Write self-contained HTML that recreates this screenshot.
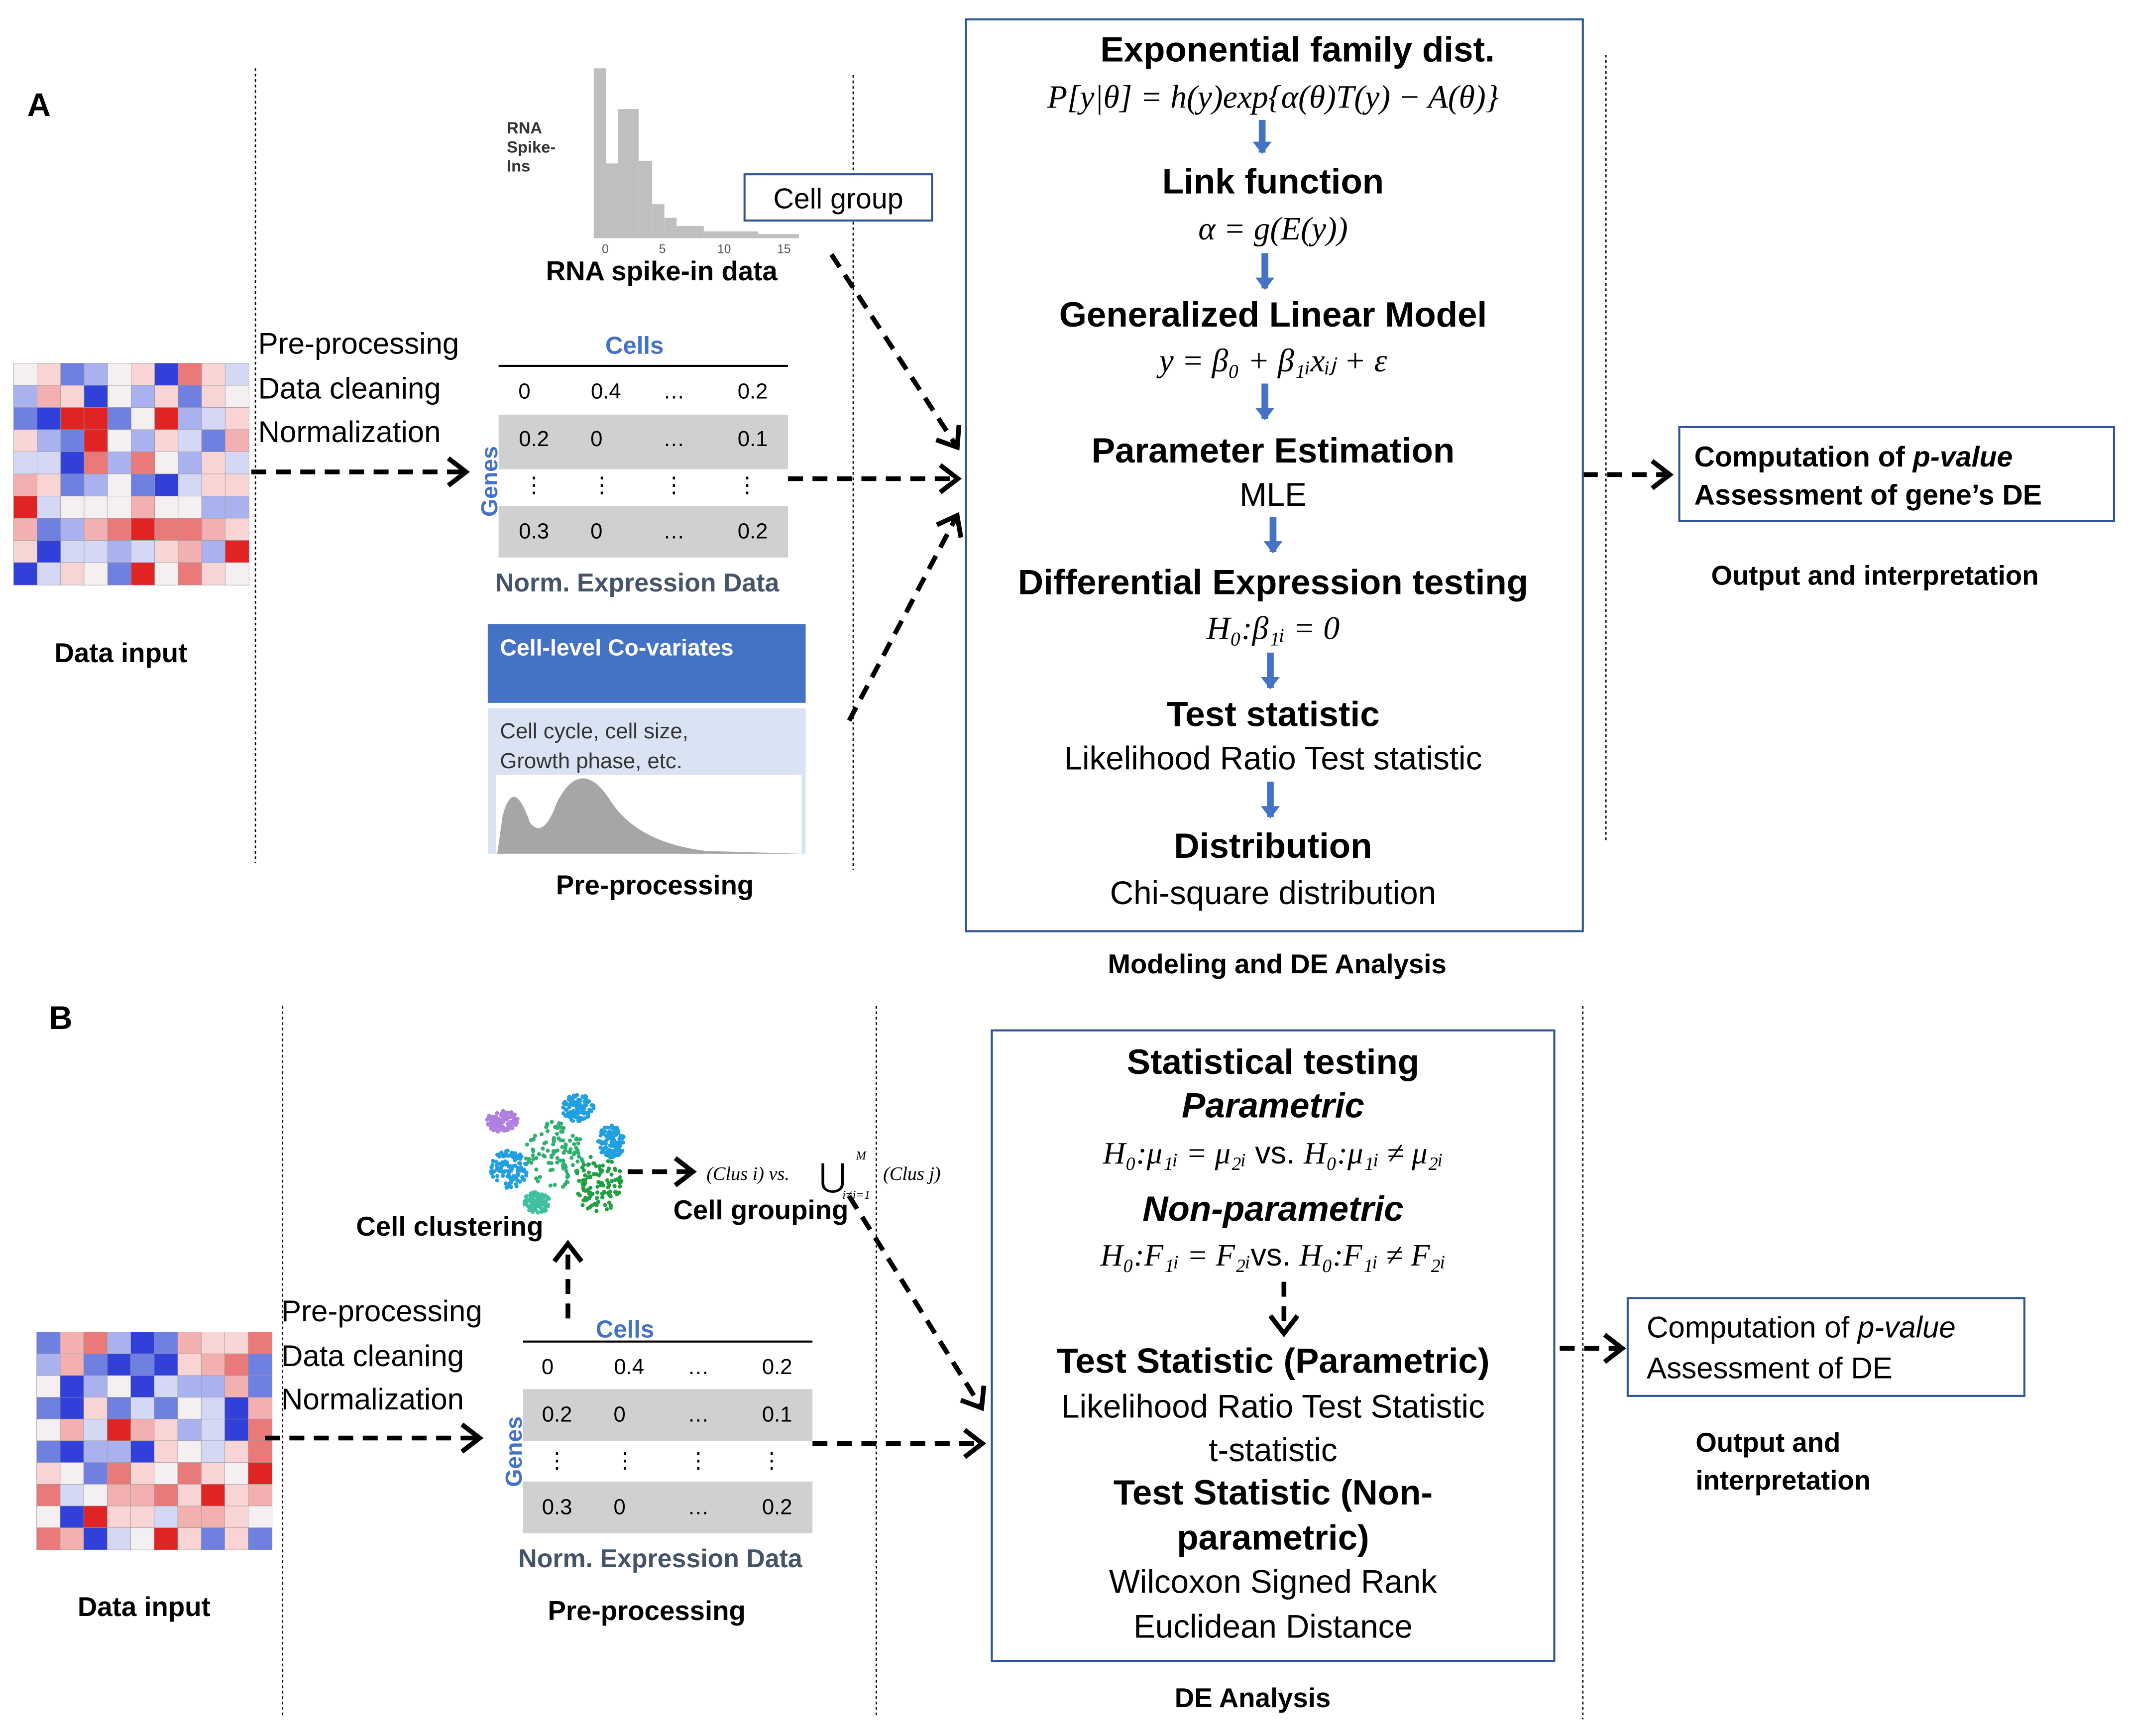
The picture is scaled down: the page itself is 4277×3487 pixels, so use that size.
<!DOCTYPE html>
<html><head><meta charset="utf-8">
<style>
html,body{margin:0;padding:0;background:#fff;}
svg{display:block;}
text{font-family:"Liberation Sans",sans-serif;}
.b{font-weight:bold;}
.s{font-family:"Liberation Serif",serif;font-style:italic;}
</style></head><body>
<svg id="sv" width="4277" height="3487" viewBox="0 0 1567 1277" xmlns="http://www.w3.org/2000/svg">
<defs>
<marker id="ah" markerWidth="20" markerHeight="24" refX="14" refY="12" orient="auto" markerUnits="userSpaceOnUse" viewBox="0 0 20 24">
<path d="M2,2 L15,12 L2,22" fill="none" stroke="#000" stroke-width="3.5"/></marker>
<marker id="bh" markerWidth="14" markerHeight="14" refX="7" refY="12" orient="0" markerUnits="userSpaceOnUse" viewBox="0 0 14 14">
<path d="M0,4 L14,4 L7,13 Z" fill="#4472c4"/></marker>
</defs>
<rect width="1567" height="1277" fill="#fff"/>
<g id="heat"></g>

<text x="20" y="85" font-size="24" class="b">A</text>
<g stroke="#000" stroke-width="1" stroke-dasharray="2,2">
<line x1="188" y1="50" x2="188" y2="635"/><line x1="628" y1="55" x2="628" y2="640"/><line x1="1182" y1="40" x2="1182" y2="620"/>
<line x1="208" y1="740" x2="208" y2="1262"/><line x1="645" y1="740" x2="645" y2="1262"/><line x1="1165" y1="740" x2="1165" y2="1265"/>
</g>
<g fill="#bfbfbf">
<rect x="437" y="50" width="9" height="125"/><rect x="446" y="120" width="9" height="55"/><rect x="455" y="80" width="15" height="95"/>
<rect x="470" y="118" width="10" height="57"/><rect x="480" y="150" width="9" height="25"/><rect x="489" y="160" width="9" height="15"/>
<rect x="498" y="166" width="20" height="9"/><rect x="518" y="170" width="40" height="5"/><rect x="558" y="172" width="30" height="3"/>
</g>
<text x="373" y="98" font-size="12" class="b" fill="#333">RNA</text>
<text x="373" y="112" font-size="12" class="b" fill="#333">Spike-</text>
<text x="373" y="126" font-size="12" class="b" fill="#333">Ins</text>
<text x="443" y="186" font-size="9" fill="#555">0</text><text x="485" y="186" font-size="9" fill="#555">5</text><text x="528" y="186" font-size="9" fill="#555">10</text><text x="572" y="186" font-size="9" fill="#555">15</text>
<rect x="548" y="128" width="138" height="34" fill="#fff" stroke="#2f5597" stroke-width="1.5"/>
<text x="617" y="153" font-size="21" text-anchor="middle">Cell group</text>
<text x="487" y="206" font-size="20" class="b" text-anchor="middle">RNA spike-in data</text>
<g font-size="22"><text x="190" y="260">Pre-processing</text><text x="190" y="293">Data cleaning</text><text x="190" y="325">Normalization</text></g>
<text x="89" y="487" font-size="20" class="b" text-anchor="middle">Data input</text>
<text x="467" y="260" font-size="18" class="b" fill="#4472c4" text-anchor="middle">Cells</text>
<line x1="367" y1="269" x2="580" y2="269" stroke="#000" stroke-width="1.5"/>
<rect x="367" y="305" width="213" height="40" fill="#d0d0d0"/><rect x="367" y="372" width="213" height="38" fill="#d0d0d0"/>
<g font-size="16" text-anchor="middle">
<text x="386" y="293">0</text><text x="446" y="293">0.4</text><text x="496" y="293">…</text><text x="554" y="293">0.2</text>
<text x="393" y="328">0.2</text><text x="439" y="328">0</text><text x="496" y="328">…</text><text x="554" y="328">0.1</text>
<text x="393" y="362">⋮</text><text x="443" y="362">⋮</text><text x="496" y="362">⋮</text><text x="550" y="362">⋮</text>
<text x="393" y="396">0.3</text><text x="439" y="396">0</text><text x="496" y="396">…</text><text x="554" y="396">0.2</text></g>
<text x="0" y="0" font-size="17" class="b" fill="#4472c4" transform="translate(366,380) rotate(-90)">Genes</text>
<text x="469" y="435" font-size="19" class="b" fill="#44546a" text-anchor="middle">Norm. Expression Data</text>
<rect x="359" y="459" width="234" height="58" fill="#4472c4"/>
<text x="368" y="482" font-size="17" class="b" fill="#fff">Cell-level Co-variates</text>
<rect x="359" y="521" width="234" height="107" fill="#dae3f3"/>
<rect x="365" y="570" width="225" height="58" fill="#fff"/>
<text x="368" y="543" font-size="16" fill="#333">Cell cycle, cell size,</text>
<text x="368" y="565" font-size="16" fill="#333">Growth phase, etc.</text>
<path d="M366,628 L370,600 Q378,570 390,605 Q400,618 410,590 Q428,555 450,590 Q470,620 520,626 L590,628 Z" fill="#a6a6a6"/>
<text x="482" y="658" font-size="20" class="b" text-anchor="middle">Pre-processing</text>
<g stroke="#000" stroke-width="3.5" stroke-dasharray="11,7" fill="none" marker-end="url(#ah)">
<line x1="185" y1="347" x2="342" y2="347"/>
<line x1="612" y1="187" x2="704" y2="328"/>
<line x1="580" y1="352" x2="704" y2="352"/>
<line x1="625" y1="530" x2="704" y2="380"/>
<line x1="1165" y1="349" x2="1228" y2="349"/>
</g>
<rect x="711" y="14" width="454" height="671" fill="none" stroke="#2f5597" stroke-width="1.5"/>
<g text-anchor="middle">
<text x="955" y="45" font-size="26" class="b">Exponential family dist.</text>
<text x="937" y="79" font-size="24" class="s">P[y|θ] = h(y)exp{α(θ)T(y) − A(θ)}</text>
<text x="937" y="142" font-size="26" class="b">Link function</text>
<text x="937" y="176" font-size="24" class="s">α = g(E(y))</text>
<text x="937" y="240" font-size="26" class="b">Generalized Linear Model</text>
<text x="937" y="273" font-size="24" class="s">y = β₀ + β₁ᵢxᵢⱼ + ε</text>
<text x="937" y="340" font-size="26" class="b">Parameter Estimation</text>
<text x="937" y="372" font-size="24">MLE</text>
<text x="937" y="437" font-size="26" class="b">Differential Expression testing</text>
<text x="937" y="470" font-size="24" class="s">H₀:β₁ᵢ = 0</text>
<text x="937" y="534" font-size="26" class="b">Test statistic</text>
<text x="937" y="566" font-size="24">Likelihood Ratio Test statistic</text>
<text x="937" y="631" font-size="26" class="b">Distribution</text>
<text x="937" y="665" font-size="24">Chi-square distribution</text>
<text x="940" y="716" font-size="20" class="b">Modeling and DE Analysis</text>
<text x="1380" y="430" font-size="20" class="b">Output and interpretation</text>
</g>
<g stroke="#4472c4" stroke-width="5" marker-end="url(#bh)">
<line x1="929" y1="88" x2="929" y2="112"/><line x1="931" y1="186" x2="931" y2="212"/><line x1="931" y1="282" x2="931" y2="308"/>
<line x1="937" y1="380" x2="937" y2="406"/><line x1="935" y1="480" x2="935" y2="506"/><line x1="935" y1="575" x2="935" y2="601"/>
</g>
<rect x="1236" y="314" width="320" height="69" fill="#fff" stroke="#2f5597" stroke-width="1.5"/>
<text x="1247" y="343" font-size="21" class="b">Computation of <tspan font-style="italic">p-value</tspan></text>
<text x="1247" y="371" font-size="21" class="b">Assessment of gene’s DE</text>

<text x="36" y="757" font-size="24" class="b">B</text>
<g id="clus"></g>
<text x="331" y="909" font-size="20" class="b" text-anchor="middle">Cell clustering</text>
<text x="520" y="868" font-size="14" class="s">(Clus i) vs.</text><text x="603" y="873" font-size="24" font-family="Liberation Serif">⋃</text>
<text x="630" y="853" font-size="9" class="s">M</text><text x="620" y="882" font-size="9" class="s">i≠j=1</text><text x="650" y="868" font-size="14" class="s">(Clus j)</text>
<text x="560" y="897" font-size="20" class="b" text-anchor="middle">Cell grouping</text>
<g font-size="22"><text x="207" y="972">Pre-processing</text><text x="207" y="1005">Data cleaning</text><text x="207" y="1037">Normalization</text></g>
<text x="106" y="1189" font-size="20" class="b" text-anchor="middle">Data input</text>
<text x="460" y="984" font-size="18" class="b" fill="#4472c4" text-anchor="middle">Cells</text>
<line x1="385" y1="987" x2="598" y2="987" stroke="#000" stroke-width="1.5"/>
<rect x="385" y="1022" width="213" height="38" fill="#d0d0d0"/><rect x="385" y="1090" width="213" height="38" fill="#d0d0d0"/>
<g font-size="16" text-anchor="middle">
<text x="403" y="1011">0</text><text x="463" y="1011">0.4</text><text x="514" y="1011">…</text><text x="572" y="1011">0.2</text>
<text x="410" y="1046">0.2</text><text x="456" y="1046">0</text><text x="514" y="1046">…</text><text x="572" y="1046">0.1</text>
<text x="410" y="1080">⋮</text><text x="460" y="1080">⋮</text><text x="514" y="1080">⋮</text><text x="568" y="1080">⋮</text>
<text x="410" y="1114">0.3</text><text x="456" y="1114">0</text><text x="514" y="1114">…</text><text x="572" y="1114">0.2</text></g>
<text x="0" y="0" font-size="17" class="b" fill="#4472c4" transform="translate(384,1094) rotate(-90)">Genes</text>
<text x="486" y="1153" font-size="19" class="b" fill="#44546a" text-anchor="middle">Norm. Expression Data</text>
<text x="476" y="1192" font-size="20" class="b" text-anchor="middle">Pre-processing</text>
<g stroke="#000" stroke-width="3.5" stroke-dasharray="11,7" fill="none" marker-end="url(#ah)">
<line x1="195" y1="1058" x2="352" y2="1058"/>
<line x1="598" y1="1062" x2="722" y2="1062"/>
<line x1="625" y1="880" x2="722" y2="1035"/>
<line x1="462" y1="862" x2="509" y2="862"/>
<line x1="418" y1="970" x2="418" y2="916"/>
<line x1="1148" y1="992" x2="1193" y2="992"/>
<line x1="945" y1="943" x2="945" y2="980"/>
</g>
<rect x="730" y="758" width="414" height="464" fill="none" stroke="#2f5597" stroke-width="1.5"/>
<g text-anchor="middle">
<text x="937" y="790" font-size="26" class="b">Statistical testing</text>
<text x="937" y="822" font-size="26" class="b" font-style="italic">Parametric</text>
<text x="937" y="856" font-size="23"><tspan class="s">H₀:μ₁ᵢ = μ₂ᵢ</tspan> vs. <tspan class="s">H₀:μ₁ᵢ ≠ μ₂ᵢ</tspan></text>
<text x="937" y="898" font-size="26" class="b" font-style="italic">Non-parametric</text>
<text x="937" y="931" font-size="23"><tspan class="s">H₀:F₁ᵢ = F₂ᵢ</tspan>vs. <tspan class="s">H₀:F₁ᵢ ≠ F₂ᵢ</tspan></text>
<text x="937" y="1010" font-size="26" class="b">Test Statistic (Parametric)</text>
<text x="937" y="1043" font-size="24">Likelihood Ratio Test Statistic</text>
<text x="937" y="1075" font-size="24">t-statistic</text>
<text x="937" y="1107" font-size="26" class="b">Test Statistic (Non-</text>
<text x="937" y="1140" font-size="26" class="b">parametric)</text>
<text x="937" y="1172" font-size="24">Wilcoxon Signed Rank</text>
<text x="937" y="1205" font-size="24">Euclidean Distance</text>
<text x="922" y="1256" font-size="20" class="b">DE Analysis</text>
</g>
<rect x="1198" y="955" width="292" height="72" fill="#fff" stroke="#2f5597" stroke-width="1.5"/>
<text x="1212" y="984" font-size="22">Computation  of <tspan font-style="italic">p-value</tspan></text>
<text x="1212" y="1014" font-size="22">Assessment  of  DE</text>
<text x="1248" y="1068" font-size="20" class="b">Output and</text>
<text x="1248" y="1096" font-size="20" class="b">interpretation</text>
</svg>
<script>
(function(){
var ns="http://www.w3.org/2000/svg",s=7;function r(){s=(s*9301+49297)%233280;return s/233280;}
var pal=["#3040d8","#7080e0","#a9b2ef","#d4d8f4","#f4f0f2","#f8d4d4","#f2b0b0","#ea7a7a","#e02424"];
var g=document.getElementById("heat");
function heat(x0,y0,w,h){var n=10,cw=w/n,ch=h/n;for(var i=0;i<n;i++)for(var j=0;j<n;j++){var e=document.createElementNS(ns,"rect");
e.setAttribute("x",x0+j*cw);e.setAttribute("y",y0+i*ch);e.setAttribute("width",cw+0.3);e.setAttribute("height",ch+0.3);
var v=r(),k;
if(v<0.08)k=0;else if(v<0.18)k=1;else if(v<0.32)k=2;else if(v<0.42)k=3;else if(v<0.5)k=4;else if(v<0.7)k=5;else if(v<0.84)k=6;else if(v<0.93)k=7;else k=8;
e.setAttribute("fill",pal[k]);e.setAttribute("stroke","#999");e.setAttribute("stroke-width","0.3");g.appendChild(e);}}
heat(10,267,173,163);heat(27,980,173,160);
var c=document.getElementById("clus");
var bl=[[370,825,12,8,"#b080e0"],[425,815,12,10,"#20a0e0"],[375,860,14,14,"#20a0e0"],[408,850,22,25,"#30b070"],[440,870,18,22,"#20a040"],[395,885,10,8,"#40c0a0"],[450,840,10,12,"#20a0e0"]];
bl.forEach(function(b){for(var i=0;i<110;i++){var e=document.createElementNS(ns,"circle");var a=r()*6.283,d=Math.sqrt(r());
e.setAttribute("cx",b[0]+Math.cos(a)*d*b[2]);e.setAttribute("cy",b[1]+Math.sin(a)*d*b[3]);e.setAttribute("r",1.5);e.setAttribute("fill",b[4]);c.appendChild(e);}});
})();
</script>
</body></html>
